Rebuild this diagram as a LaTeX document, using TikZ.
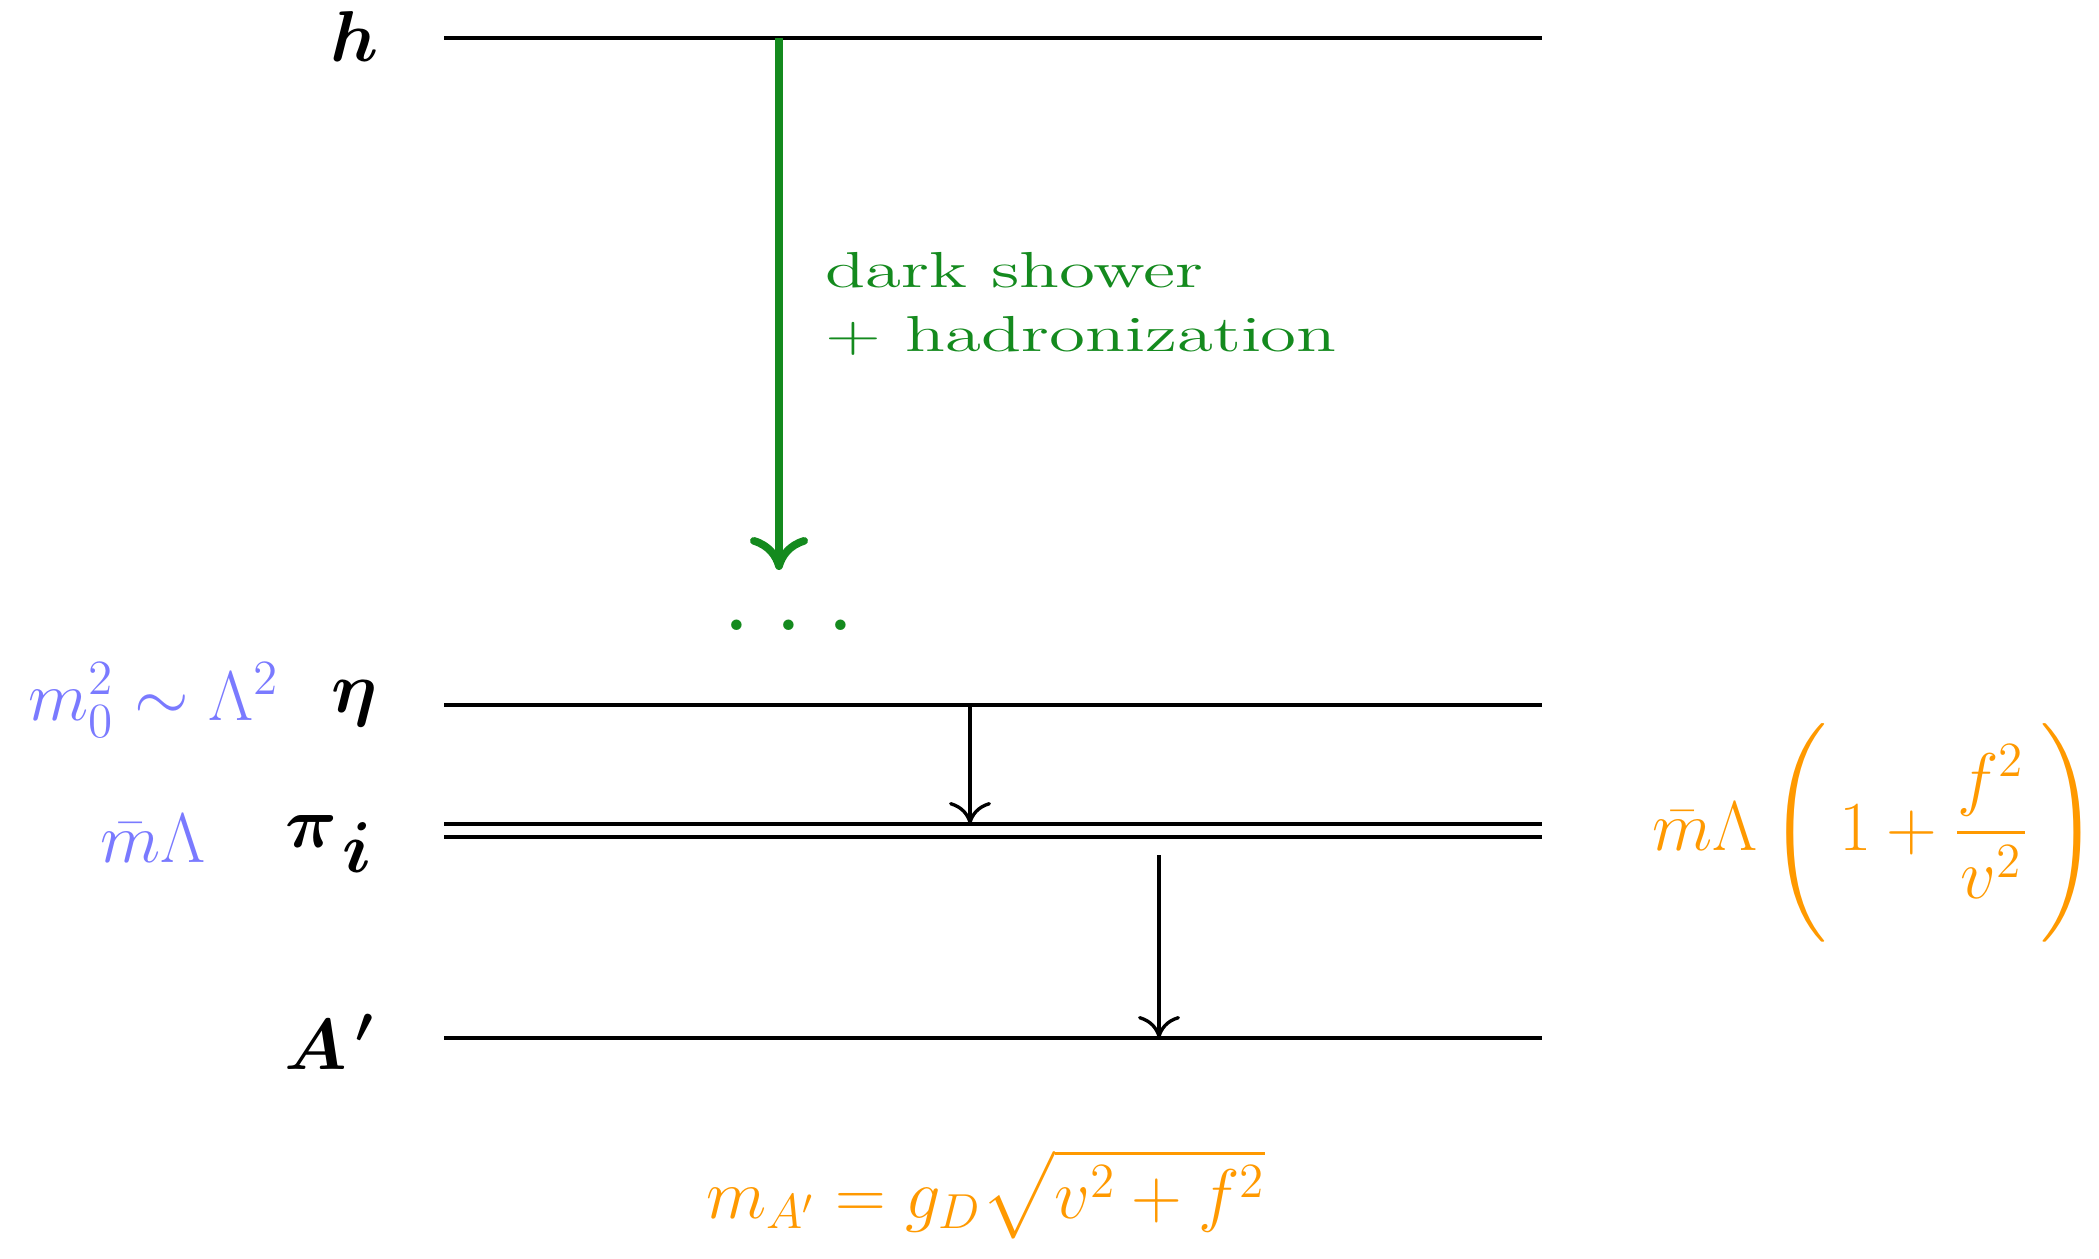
\documentclass[tikz,border=0pt]{standalone}
\usepackage{fix-cm}
\usepackage{amsmath}
\usepackage{bm}
\usepackage{graphicx}
\usetikzlibrary{arrows.meta, positioning}
\definecolor{showergreen}{RGB}{20,138,30}
\definecolor{massblue}{RGB}{122,122,255}
\definecolor{massorange}{RGB}{255,153,0}

\begin{document}
\begin{tikzpicture}[
    level/.style={line width=1.1pt},
    decay/.style={-{Computer Modern Rightarrow[length=2.2mm, width=4.2mm]}, line width=0.95pt},
    shower/.style={-{Computer Modern Rightarrow[length=3.3mm, width=5.8mm]}, line width=2.2pt, showergreen},
    statelabel/.style={anchor=base east, inner sep=0pt, font=\fontsize{20.5}{24}\selectfont},
    bluemass/.style={inner sep=0pt, massblue, font=\fontsize{20}{24}\selectfont},
    orangemass/.style={inner sep=0pt, massorange, font=\fontsize{20}{24}\selectfont},
]
\useasboundingbox (0,0) rectangle (20.99,-12.59);

% energy levels
\coordinate (hL)   at (4.44,-0.38);   \coordinate (hR)   at (15.42,-0.38);
\coordinate (etaL) at (4.44,-7.05);   \coordinate (etaR) at (15.42,-7.05);
\coordinate (piaL) at (4.44,-8.24);   \coordinate (piaR) at (15.42,-8.24);
\coordinate (pibL) at (4.44,-8.37);   \coordinate (pibR) at (15.42,-8.37);
\coordinate (apL)  at (4.44,-10.38);  \coordinate (apR)  at (15.42,-10.38);

\draw[level] (hL)   -- (hR);
\draw[level] (etaL) -- (etaR);
\draw[level] (piaL) -- (piaR);
\draw[level] (pibL) -- (pibR);
\draw[level] (apL)  -- (apR);

% state names
\node[statelabel] (hlab)   at (3.79,-0.62)  {$\bm{h}$};
\node[statelabel] (etalab) at (3.78,-7.12)  {$\bm{\eta}$};
\node[statelabel] (pilab)  at (3.74,-8.47)  {$\bm{\pi}_{\textstyle\mkern2mu\bm{i}}$};
\node[statelabel] (aplab)  at (3.75,-10.69) {$\bm{A}^{\,\bm{\prime}}$};

% shower
\coordinate (showerstart) at (7.79,-0.38);
\coordinate (showerend)   at (7.79,-5.70);
\draw[shower] (showerstart) -- (showerend);
\node[anchor=base west, inner sep=0pt, showergreen, font=\Large] (showertext) at (8.25,-2.88)
    {\scalebox{1.45}[1]{\begin{tabular}[t]{@{}l@{}}dark shower\\+ hadronization\end{tabular}}};
\node[anchor=base, inner sep=0pt, showergreen, font=\huge\bfseries] (dots) at (7.89,-6.30)
    {.\hspace{2.9mm}.\hspace{2.9mm}.};

% decays
\coordinate (etadecay) at (9.70,-7.05);
\coordinate (etaend)   at (9.70,-8.24);
\draw[decay] (etadecay) -- (etaend);
\coordinate (pidecay) at (11.59,-8.55);
\coordinate (piend)   at (11.59,-10.38);
\draw[decay] (pidecay) -- (piend);

% masses
\node[bluemass, anchor=base east] (etamass) at (2.80,-7.20) {$m_0^2\sim\Lambda^2$};
\node[bluemass, anchor=base] (pimass) at (1.53,-8.62) {$\bar m\Lambda$};
\node[orangemass, anchor=east] (pimassfull) at (20.99,-8.30)
    {$\displaystyle \bar m\Lambda\left(\rule[-0.95cm]{0pt}{2.3cm}\,1+\frac{f^2}{v^2}\,\right)$};
\node[orangemass, anchor=base] (apmass) at (9.86,-12.18)
    {$m_{A'}=g_D\sqrt{v^2+f^2}$};

\end{tikzpicture}
\end{document}
